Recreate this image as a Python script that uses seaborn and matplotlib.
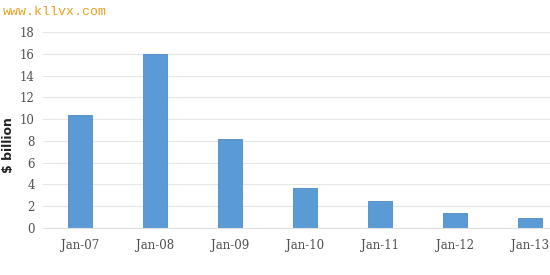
import matplotlib
matplotlib.use("Agg")
import matplotlib.pyplot as plt
import seaborn as sns
import pandas as pd

categories = ["Jan-07", "Jan-08", "Jan-09", "Jan-10", "Jan-11", "Jan-12", "Jan-13"]
values = [10.4, 16.0, 8.2, 3.7, 2.5, 1.4, 0.9]
y_ticks = [0, 2, 4, 6, 8, 10, 12, 14, 16, 18]

sns.set_theme(style="white")
plt.rcParams['font.family'] = ['DejaVu Serif']

df = pd.DataFrame({"period": categories, "value": values})

fig = plt.figure(figsize=(5.5, 2.75), dpi=100)
ax = fig.add_axes([43/550, 1 - 228/275, 1 - 43/550, (228 - 32)/275])

sns.barplot(data=df, x="period", y="value", ax=ax, color="#5B9BD5",
            width=0.32, edgecolor="#4F8BC4", linewidth=0.6, saturation=1)

ax.set_ylim(0, 18)
ax.set_yticks(y_ticks)
ax.set_xlim(-0.5, 6.27)
ax.yaxis.grid(True, color="#E6E6E6", linewidth=0.8)
ax.set_axisbelow(True)
for s in ["top", "right", "left"]:
    ax.spines[s].set_visible(False)
ax.spines["bottom"].set_color("#E0E0E0")
ax.spines["bottom"].set_linewidth(0.8)
ax.tick_params(axis="y", labelsize=8.5, colors="#505050", pad=6, length=0)
ax.tick_params(axis="x", labelsize=8.5, colors="#505050", pad=8, length=0)
ax.set_xlabel("")
ax.set_ylabel("")

fig.text(9/550, 1 - 145/275, "$ billion", fontsize=9, fontweight="bold",
         color="#222222", family="DejaVu Sans", rotation=90,
         va="center", ha="center")

fig.text(3/550, 1 - 12/275, "www.kllvx.com", fontsize=9.5, color="#E8A020",
         family="Liberation Mono", va="center", ha="left")

fig.savefig("out.png", dpi=100)
